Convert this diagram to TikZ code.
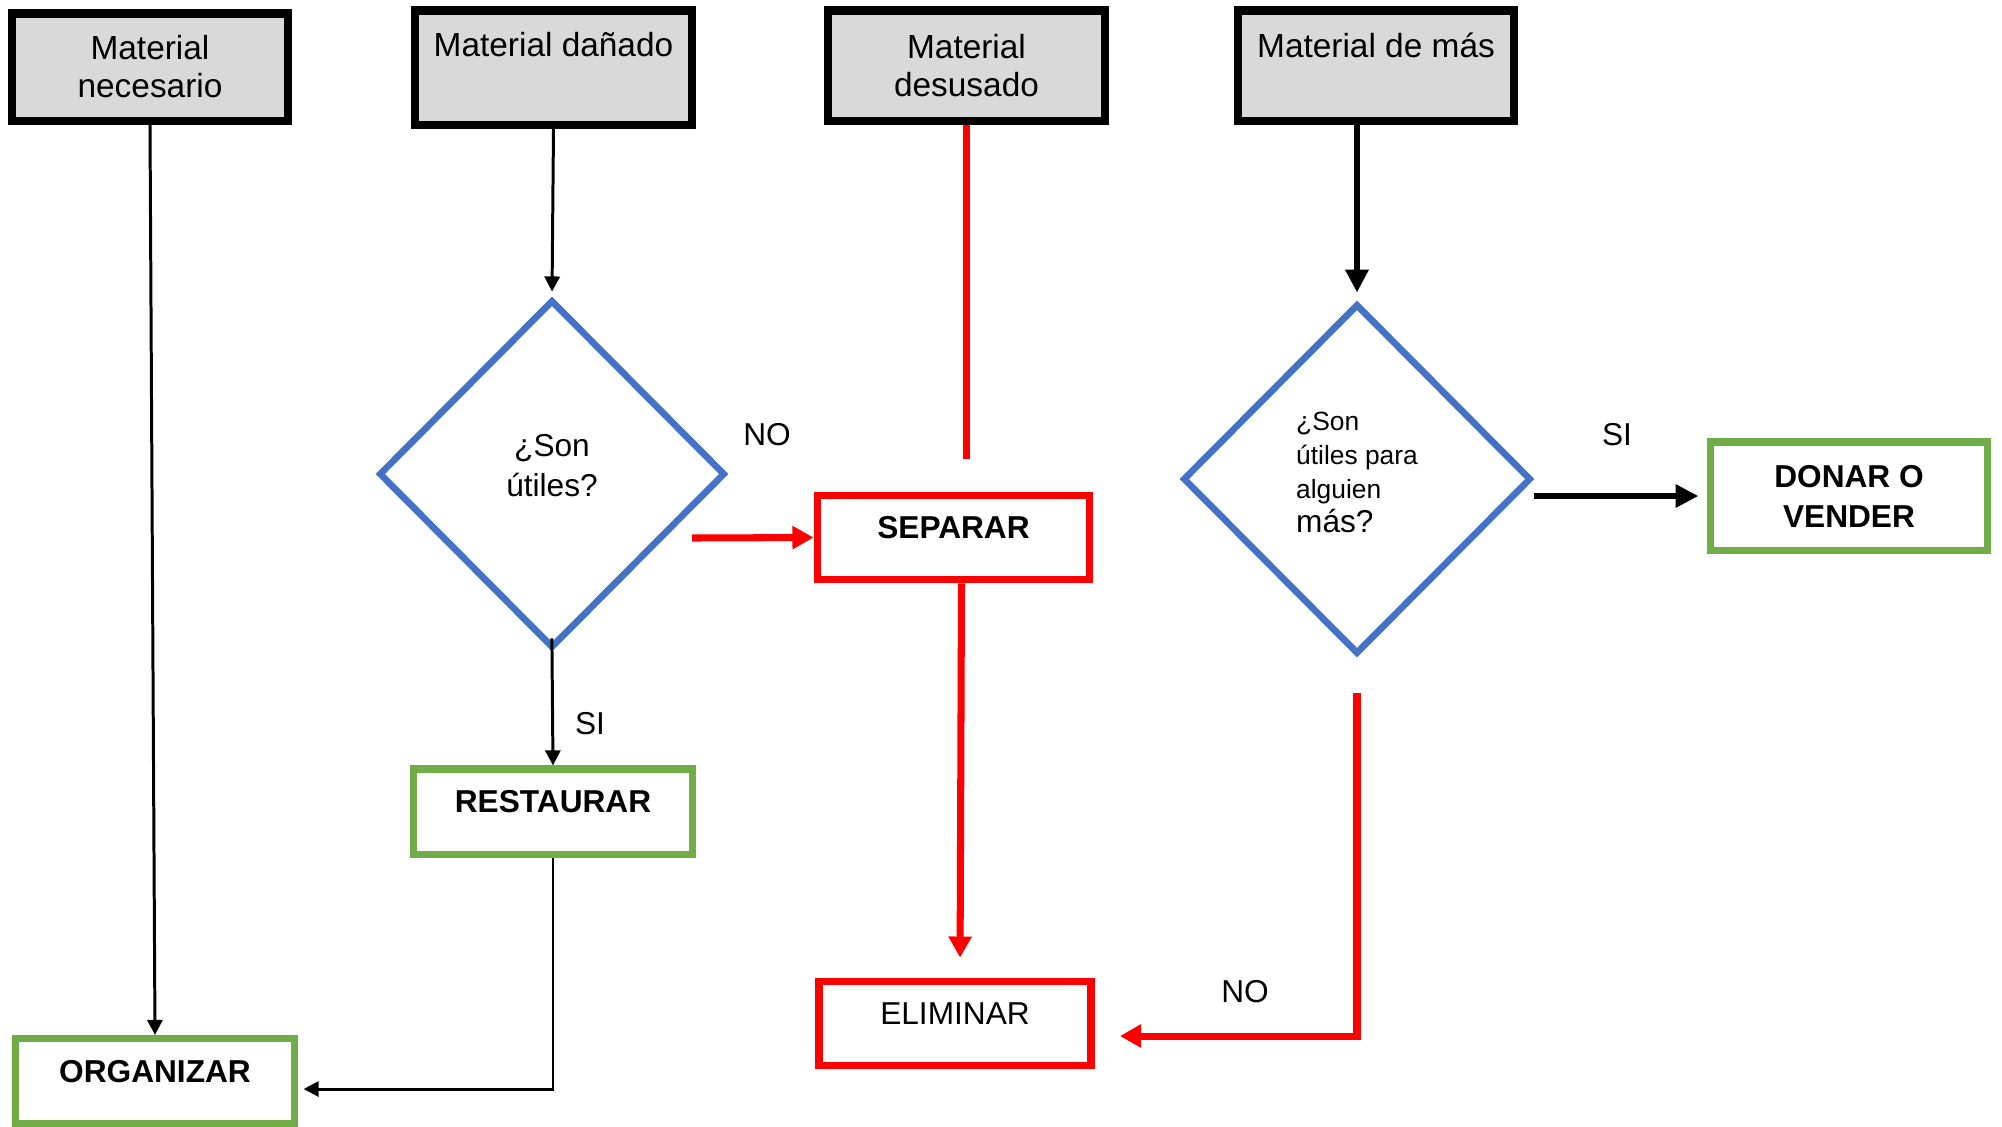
\documentclass[tikz,border=0pt]{standalone}
\usepackage{fontspec}
\setmainfont{Liberation Sans}
\usetikzlibrary{arrows.meta,shapes.geometric}
\definecolor{hdrgray}{HTML}{D9D9D9}
\definecolor{qblue}{HTML}{4472C4}
\definecolor{okgreen}{HTML}{70AD47}
\definecolor{alertred}{HTML}{FF0000}

\begin{document}
\begin{tikzpicture}[x=0.01cm, y=-0.01cm,
  header/.style={draw=black, line width=2.3pt, fill=hdrgray, minimum width=2.76cm,
    align=center, inner sep=0pt, font=\fontsize{9.5}{10.8}\selectfont},
  toptext/.style={text height=7pt, text depth=13pt},
  question/.style={diamond, draw=qblue, line width=1.9pt, inner sep=0pt, aspect=1,
    minimum width=3.46cm, minimum height=3.48cm},
  keepbox/.style={draw=okgreen, line width=2pt, minimum width=2.78cm, minimum height=0.85cm,
    inner sep=0pt, font=\fontsize{9}{11.4}\bfseries\selectfont},
  dropbox/.style={draw=alertred, line width=2.2pt, minimum width=2.72cm, minimum height=0.84cm,
    inner sep=0pt, font=\fontsize{9}{11.4}\selectfont},
  onetext/.style={text height=7pt, text depth=6.3pt},
  thinarrow/.style={draw=black, line width=0.85pt, -{Triangle[length=4.3pt,width=4.3pt]}},
  boldarrow/.style={draw=black, line width=1.7pt, -{Triangle[length=6.5pt,width=6.3pt]}},
  redline/.style={draw=alertred, line width=2pt},
  redarrow/.style={redline, -{Triangle[length=6pt,width=6.3pt]}},
  tag/.style={font=\fontsize{9}{11}\selectfont, inner sep=0pt}
]
\useasboundingbox (0,0) rectangle (2002,1126);
\fill[white] (0,0) rectangle (2002,1126);

% source categories
\node[header, minimum height=1.07cm] (nec) at (150,67) {Material\\necesario};
\node[header, minimum height=1.14cm, toptext] (dan) at (553.5,67.5) {Material dañado};
\node[header, minimum height=1.10cm] (des) at (966.5,65.5) {Material\\desusado};
\node[header, minimum height=1.10cm, text height=7pt, text depth=11.5pt] (mas) at (1376,65.5) {Material de más};

% decisions
\node[question, align=center, font=\fontsize{9}{11.4}\selectfont, text depth=5pt] (q1) at (552,474) {¿Son\\útiles?};
\node[question, minimum width=3.48cm, minimum height=3.50cm, align=left,
  font=\fontsize{7.5}{9.7}\selectfont, text depth=3.7pt] (q2) at (1357,479)
  {¿Son\\útiles para\\alguien\\{\fontsize{9}{9.7}\selectfont más?}};

% actions
\node[dropbox, onetext, font=\fontsize{9}{11.4}\bfseries\selectfont] (sep) at (953.5,537.5) {SEPARAR};
\node[keepbox, onetext] (res) at (553,811.5) {RESTAURAR};
\node[keepbox, onetext] (org) at (155,1081) {ORGANIZAR};
\node[dropbox, onetext] (eli) at (955,1023.5) {ELIMINAR};
\node[keepbox, minimum width=2.76cm, minimum height=1.08cm, align=center] (don) at (1849,496) {DONAR O\\VENDER};

% branch labels
\node[tag] (siA) at (590,724) {SI};
\node[tag] (noA) at (767,435) {NO};
\node[tag] (siB) at (1617,435) {SI};
\node[tag] (noB) at (1245,992) {NO};

% helper points
\coordinate (q1no) at (692,538);
\coordinate (resbend) at (553,1089);
\coordinate (q2bend) at (1357,1036);

% connectors
\draw[thinarrow] (nec.south) -- (org.north);
\draw[thinarrow, shorten >=0.05cm] (dan.south) -- (q1.north);
\draw[thinarrow, shorten <=-0.13cm] (q1.south) -- (res.north);
\draw[thinarrow, shorten >=0.06cm] (res.south) -- (resbend) -- (resbend -| org.east);

\draw[redarrow] (q1no) -- (sep.west);
\draw[redline, shorten >=0.33cm] (des.south) -- (des.south |- sep.north);
\draw[redarrow, shorten >=0.2cm] ([xshift=0.08cm]sep.south) -- ([xshift=0.05cm]eli.north);

\draw[boldarrow, shorten >=0.08cm] (mas.south -| q2.north) -- (q2.north);
\draw[boldarrow, shorten >=0.09cm] (q2.east |- don.west) -- (don.west);
\draw[redarrow, shorten <=0.36cm, shorten >=0.25cm] (q2.south) -- (q2bend) -- (q2bend -| eli.east);
\end{tikzpicture}
\end{document}
